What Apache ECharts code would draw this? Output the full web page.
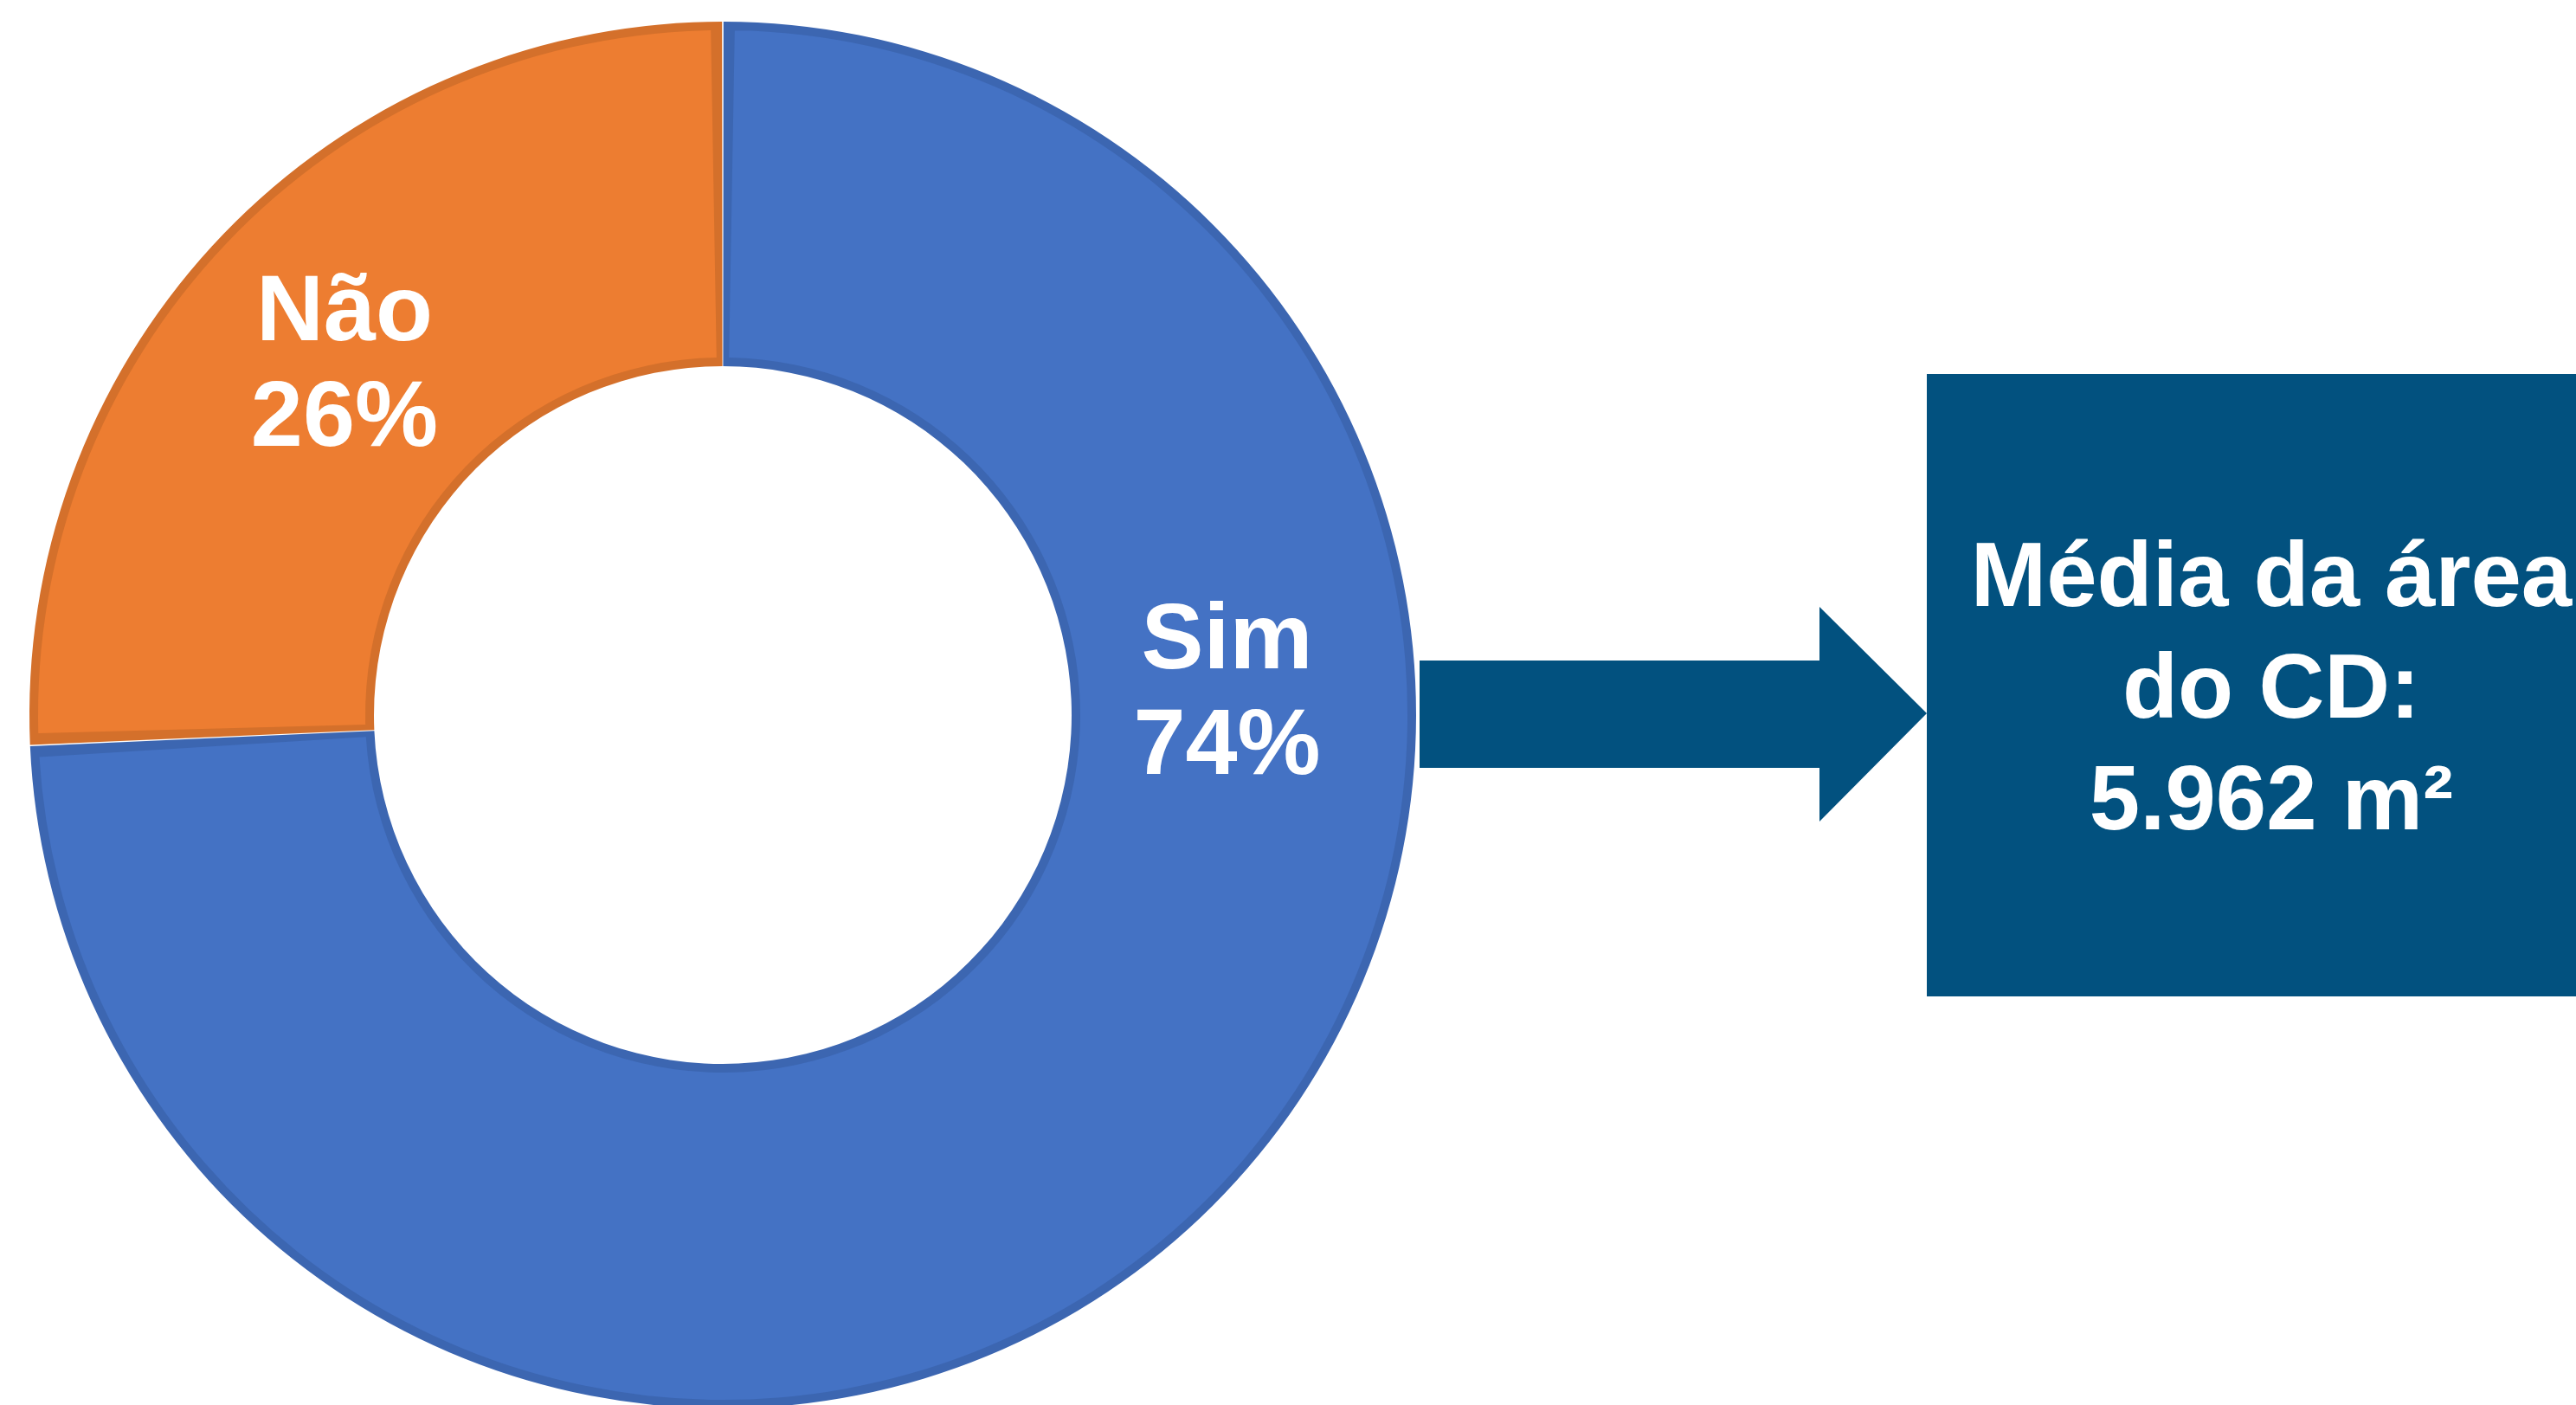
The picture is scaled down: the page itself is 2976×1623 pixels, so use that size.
<!DOCTYPE html>
<html>
<head>
<meta charset="utf-8">
<script src="https://cdn.jsdelivr.net/npm/echarts@6/dist/echarts.min.js"></script>
<style>
  html, body { margin: 0; padding: 0; background: #ffffff; }
  #chart { width: 2976px; height: 1623px; }
</style>
</head>
<body>
<div id="chart"></div>
<script>
// ---- data ----
const categories = ['Sim', 'Não'];
const values = [74.3, 25.7];
const sliceColors = ['#4472C4', '#ED7D31'];
const sliceBorders = ['#3C66B1', '#D4702B'];
const boxLines = ['Média da área', 'do CD:', '5.962 m²'];

// ---- layout ----
const cx = 835, cy = 826;
const FONT = '"Liberation Sans", Arial, Helvetica, sans-serif';
// manual placement of the "Sim" label (moved in the original)
const simLabelAngleDeg = 87.8, simLabelRadius = 583;

const chart = echarts.init(document.getElementById('chart'), null, { renderer: 'canvas' });

const borderData = categories.map((c, i) => ({
  name: c, value: values[i], itemStyle: { color: sliceBorders[i] }
}));
const fillData = categories.map((c, i) => ({
  name: c, value: values[i], itemStyle: { color: sliceColors[i] }
}));

const option = {
  backgroundColor: '#ffffff',
  animation: false,
  series: [
    {
      // outline ring (slice border colour)
      type: 'pie',
      center: [cx, cy],
      radius: [403, 801],
      startAngle: 90,
      clockwise: true,
      padAngle: 0.12,
      silent: true,
      label: { show: false },
      labelLine: { show: false },
      data: borderData
    },
    {
      // slice fills, inset inside the outline
      type: 'pie',
      center: [cx, cy],
      radius: [413, 791],
      startAngle: 90,
      clockwise: true,
      padAngle: 2,
      avoidLabelOverlap: false,
      silent: true,
      data: fillData,
      label: {
        show: true,
        position: 'inside',
        formatter: function (p) { return p.name + '\n' + Math.round(p.percent) + '%'; },
        color: '#ffffff',
        fontFamily: FONT,
        fontWeight: 'bold',
        fontSize: 108,
        lineHeight: 122,
        align: 'center'
      },
      labelLine: { show: false },
      labelLayout: function (params) {
        if (params.dataIndex === 0) {
          const a = simLabelAngleDeg * Math.PI / 180;
          return {
            x: cx + simLabelRadius * Math.sin(a),
            y: cy - simLabelRadius * Math.cos(a),
            align: 'center',
            verticalAlign: 'middle'
          };
        }
        return { dy: 17 };
      }
    }
  ],
  graphic: [
    {
      type: 'polygon',
      silent: true,
      shape: {
        points: [[1640, 763], [2102, 763], [2102, 701], [2226, 824], [2102, 949], [2102, 887], [1640, 887]]
      },
      style: { fill: '#02517F' }
    },
    {
      type: 'rect',
      silent: true,
      shape: { x: 2226, y: 432, width: 800, height: 719 },
      style: { fill: '#02517F' }
    },
    {
      type: 'text',
      silent: true,
      x: 2624,
      y: 800,
      style: {
        text: boxLines.join('\n'),
        fill: '#ffffff',
        font: 'bold 105px ' + FONT,
        lineHeight: 129,
        align: 'center',
        verticalAlign: 'middle'
      }
    }
  ]
};

chart.setOption(option);
</script>
</body>
</html>
